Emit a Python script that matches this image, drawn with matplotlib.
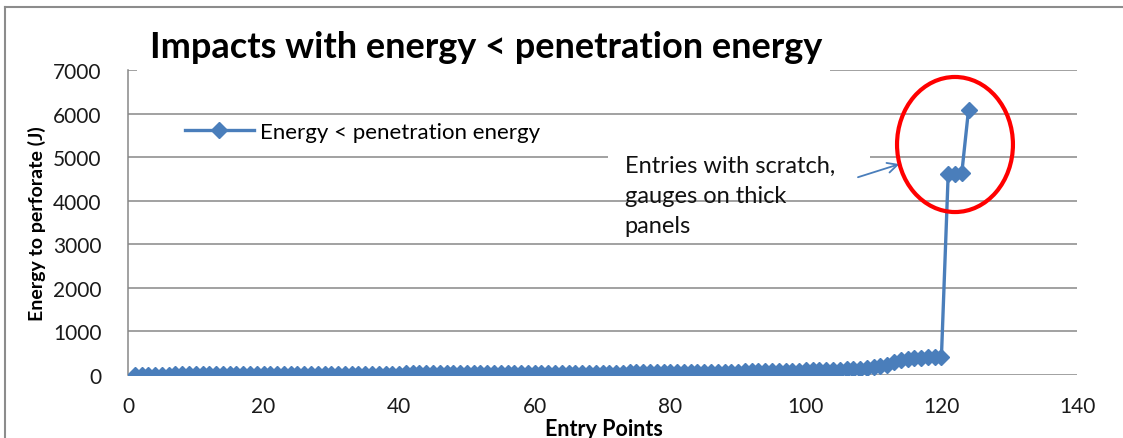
import numpy as np
import matplotlib
matplotlib.use("Agg")
import matplotlib.pyplot as plt
from matplotlib.patches import Ellipse, Rectangle
from matplotlib.lines import Line2D

plt.rcParams["font.family"] = ["Lato", "DejaVu Sans"]

# sorted energy-to-perforate values for every entry point (J)
entry_points = list(range(1, 125))
energy = [
    3, 5, 6, 8, 10, 11, 13, 14, 15, 16,
    17, 18, 19, 20, 21, 21, 22, 23, 23, 24,
    25, 25, 26, 26, 27, 27, 28, 28, 29, 29,
    30, 30, 31, 31, 32, 32, 33, 33, 34, 34,
    35, 35, 36, 36, 37, 37, 38, 38, 39, 39,
    40, 40, 41, 42, 42, 43, 44, 44, 45, 46,
    46, 47, 48, 48, 49, 50, 51, 52, 53, 54,
    55, 56, 57, 58, 59, 60, 61, 62, 63, 64,
    65, 66, 68, 69, 71, 72, 74, 76, 78, 80,
    82, 84, 86, 88, 90, 93, 96, 99, 102, 105,
    108, 112, 116, 120, 125, 130, 138, 148, 165, 190,
    215, 240, 290, 340, 370, 385, 395, 405, 410, 420,
    4620, 4620, 4630, 6090,
]
y_ticks = [0, 1000, 2000, 3000, 4000, 5000, 6000, 7000]
x_ticks = [0, 20, 40, 60, 80, 100, 120, 140]

BLUE = "#4a7ebb"
GRID = "#878787"

W, H = 1123, 439
fig = plt.figure(figsize=(W / 100, H / 100), dpi=100)
ax = fig.add_axes([128 / W, 1 - 376 / H, 949 / W, 305 / H])

ax.plot(entry_points, energy, color=BLUE, lw=2.4, marker="D", ms=8.5,
        mec=BLUE, mfc=BLUE, zorder=4, label="Energy < penetration energy")

ax.set_xlim(0, 140)
ax.set_ylim(0, 7000)
ax.set_xticks(x_ticks)
ax.set_yticks(y_ticks)
ax.tick_params(length=0, labelsize=15, colors="#1a1a1a")
ax.tick_params(axis="x", pad=15)
ax.tick_params(axis="y", pad=19)
ax.yaxis.grid(True, color=GRID, lw=1.1)
ax.set_axisbelow(True)
for s in ("top", "right", "bottom"):
    ax.spines[s].set_visible(False)
ax.spines["left"].set_color(GRID)
ax.spines["left"].set_linewidth(1.1)

ax.set_xlabel("Entry Points", fontsize=15.5, fontweight="bold")
ax.set_ylabel("Energy to perforate (J)", fontsize=14, fontweight="bold")
ax.xaxis.set_label_coords(0.502, -0.14)
ax.yaxis.set_label_coords(-0.086, 0.5)

ax.legend(loc="center left", bbox_to_anchor=(0.06, 0.797), frameon=False,
          fontsize=16, handlelength=3.1, handletextpad=0.3,
          borderpad=0, borderaxespad=0)

# callout: white box behind the note, arrow and red ring round the outliers
ax.add_patch(Rectangle((70.8, 4500), 38.7, 850, facecolor="white",
                       edgecolor="none", zorder=2))
ax.text(73.3, 5060, "Entries with scratch,\ngauges on thick\npanels", fontsize=17,
        va="top", ha="left", linespacing=1.55, color="#111111", zorder=3)
ax.annotate("", xy=(114.2, 4860), xytext=(107.3, 4520),
            arrowprops=dict(arrowstyle="->", color=BLUE, lw=1.3,
                            mutation_scale=18), zorder=5)
ax.add_patch(Ellipse((122.0, 5290), 17.1, 3100, fill=False,
                     edgecolor="#ff0000", lw=3, zorder=5))

# title sits on a white block that hides the top gridline
fig.add_artist(Rectangle((137 / W, 1 - 78 / H), 693 / W, 60 / H,
                         transform=fig.transFigure, facecolor="white",
                         edgecolor="none", zorder=5))
fig.text(150 / W, 1 - 47 / H, "Impacts with energy < penetration energy",
         fontsize=26, fontweight="bold", va="center", ha="left", zorder=6)

# chart-area border
fig.add_artist(Line2D([5 / W, 5 / W], [0, 1 - 8 / H], color="#8c8c8c", lw=1.5,
                      transform=fig.transFigure))
fig.add_artist(Line2D([5 / W, 1], [1 - 8 / H, 1 - 8 / H], color="#8c8c8c", lw=1.5,
                      transform=fig.transFigure))

fig.savefig("out.png", dpi=100)
